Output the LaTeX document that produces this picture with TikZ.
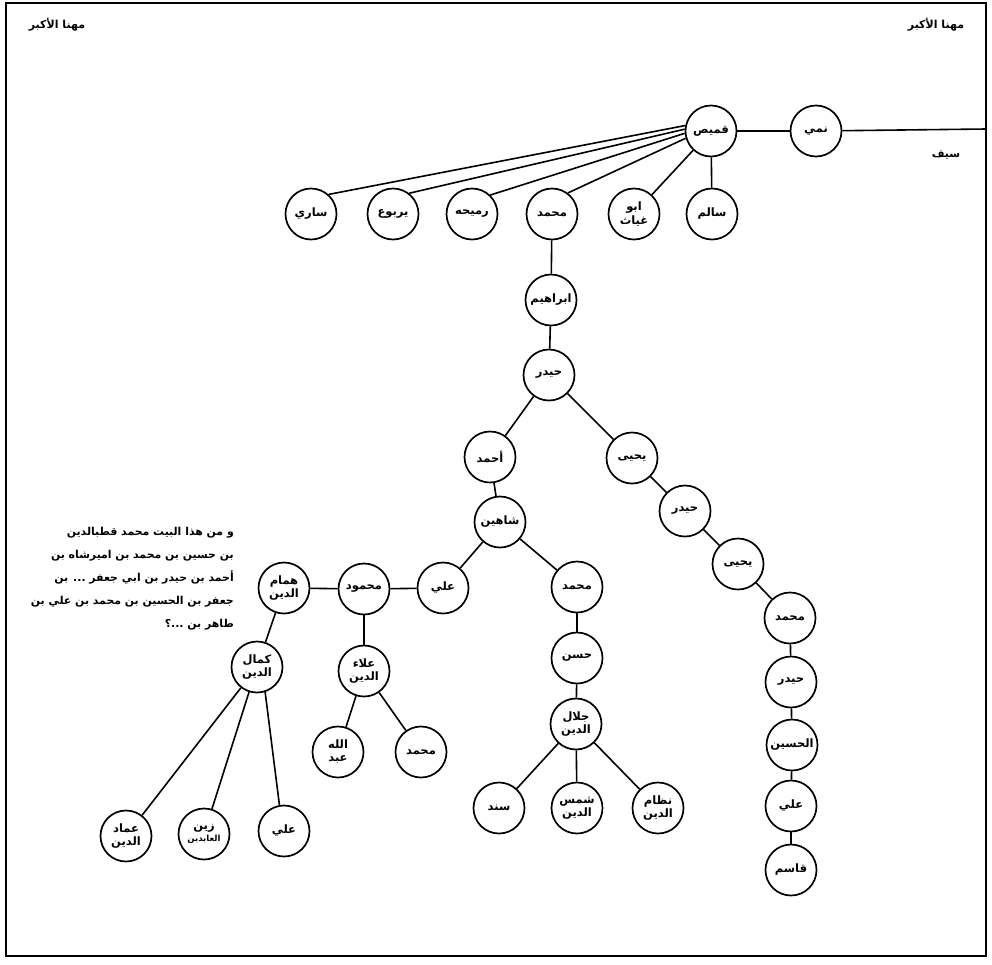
\documentclass[tikz,border=0pt]{standalone}
\usepackage{fontspec}
\TeXXeTstate=1
\newfontfamily\arabicfont[Script=Arabic]{DejaVu Sans}
\newcommand{\arl}[1]{\beginR #1\endR}
\begin{document}
\begin{tikzpicture}[x=1pt,y=-1pt,
  person/.style={circle,draw,line width=1.7pt,minimum size=51pt,inner sep=0pt,
    font=\arabicfont\bfseries\fontsize{11.5}{13}\selectfont,align=center},
  label/.style={font=\arabicfont\bfseries\fontsize{11}{13}\selectfont,inner sep=0pt},
  link/.style={line width=1.6pt}]
\useasboundingbox (0,0) rectangle (992,964);
\draw[line width=2pt] (6,3) rectangle (986,956);

% header texts
\node[label] (mahnaL) at (57,25) {\arl{مهنا الأكبر}};
\node[label] (mahnaR) at (936,25) {\arl{مهنا الأكبر}};
\node[label] (saif) at (946,155) {\arl{سيف}};

% top line
\node[person] (qamis) at (711,131) {\arl{قميص}};
\node[person] (nami) at (816,131) {\arl{نمي}};
\coordinate (edgeR) at (986,129);

% row 2
\node[person] (sari) at (311,214) {\arl{ساري}};
\node[person] (yarbu) at (393,214) {\arl{يربوع}};
\node[person] (rumayha) at (472,214) {\arl{رميحه}};
\node[person] (muhA) at (552,214) {\arl{محمد}};
\node[person] (abugh) at (634,214) {\arl{ابو}\\[1pt]\arl{غياث}};
\node[person] (salim) at (712,214) {\arl{سالم}};

% main stem
\node[person] (ibrahim) at (551,300) {\arl{ابراهيم}};
\node[person] (haydarA) at (549,375) {\arl{حيدر}};
\node[person] (ahmad) at (490,457) {\arl{أحمد}};
\node[person] (yahyaA) at (632,458) {\arl{يحيى}};
\node[person] (shahin) at (500,522) {\arl{شاهين}};
\node[person] (aliA) at (443,588) {\arl{علي}};
\node[person] (muhB) at (577,587) {\arl{محمد}};
\node[person] (mahmud) at (364,589) {\arl{محمود}};
\node[person] (hamam) at (284,588) {\arl{همام}\\\arl{الدين}};
\node[person] (kamal) at (257,667) {\arl{كمال}\\\arl{الدين}};
\node[person] (alaa) at (364,671) {\arl{علاء}\\\arl{الدين}};
\node[person] (abdallah) at (338,752) {\arl{الله}\\\arl{عبد}};
\node[person] (muhC) at (421,752) {\arl{محمد}};
\node[person] (imad) at (126,836) {\arl{عماد}\\\arl{الدين}};
\node[person] (zayn) at (204,834) {\arl{زين}\\[-1pt]{\fontsize{8.5}{9.5}\selectfont\arl{العابدين}}};
\node[person] (aliB) at (284,831) {\arl{علي}};

% middle branch
\node[person] (hasan) at (577,658) {\arl{حسن}};
\node[person] (jalal) at (576,724) {\arl{جلال}\\\arl{الدين}};
\node[person] (sanad) at (499,808) {\arl{سند}};
\node[person] (shams) at (577,808) {\arl{شمس}\\\arl{الدين}};
\node[person] (nizam) at (658,808) {\arl{نظام}\\\arl{الدين}};

% right chain
\node[person] (haydarB) at (685,511) {\arl{حيدر}};
\node[person] (yahyaB) at (738,564) {\arl{يحيى}};
\node[person] (muhD) at (790,618) {\arl{محمد}};
\node[person] (haydarC) at (791,682) {\arl{حيدر}};
\node[person] (husayn) at (792,745) {\arl{الحسين}};
\node[person] (aliC) at (791,806) {\arl{علي}};
\node[person] (qasim) at (791,870) {\arl{قاسم}};

% paragraph
\node[anchor=east,align=right,inner sep=0pt,
  font=\arabicfont\bfseries\fontsize{10.9}{23}\selectfont] (para) at (234,579)
  {\arl{و من هذا البيت محمد قطبالدين}\\
   \arl{بن حسين بن محمد بن اميرشاه بن}\\
   \arl{أحمد بن حيدر بن ابي جعفر ... بن}\\
   \arl{جعفر بن الحسين بن محمد بن علي بن}\\
   \arl{طاهر بن ...؟}};

% connectors
\draw[link] (qamis) -- (nami);
\draw[link] (nami) -- (edgeR);
\draw[link] (qamis.168) -- (sari.48);
\draw[link] (qamis.176) -- (yarbu.52);
\draw[link] (qamis.185) -- (rumayha.46);
\draw[link] (qamis.196) -- (muhA.53);
\draw[link] (qamis) -- (abugh);
\draw[link] (qamis) -- (salim);
\draw[link] (muhA) -- (ibrahim);
\draw[link] (ibrahim) -- (haydarA);
\draw[link] (haydarA) -- (ahmad);
\draw[link] (haydarA) -- (yahyaA);
\draw[link] (ahmad) -- (shahin);
\draw[link] (shahin) -- (aliA);
\draw[link] (shahin) -- (muhB);
\draw[link] (aliA) -- (mahmud);
\draw[link] (mahmud) -- (hamam);
\draw[link] (mahmud) -- (alaa);
\draw[link] (alaa) -- (abdallah);
\draw[link] (alaa) -- (muhC);
\draw[link] (hamam) -- (kamal);
\draw[link] (kamal) -- (imad);
\draw[link] (kamal) -- (zayn);
\draw[link] (kamal.-72) -- (aliB.100);
\draw[link] (muhB) -- (hasan);
\draw[link] (hasan) -- (jalal);
\draw[link] (jalal) -- (sanad);
\draw[link] (jalal) -- (shams);
\draw[link] (jalal) -- (nizam);
\draw[link] (yahyaA) -- (haydarB);
\draw[link] (haydarB) -- (yahyaB);
\draw[link] (yahyaB) -- (muhD);
\draw[link] (muhD) -- (haydarC);
\draw[link] (haydarC) -- (husayn);
\draw[link] (husayn) -- (aliC);
\draw[link] (aliC) -- (qasim);
\end{tikzpicture}
\end{document}
